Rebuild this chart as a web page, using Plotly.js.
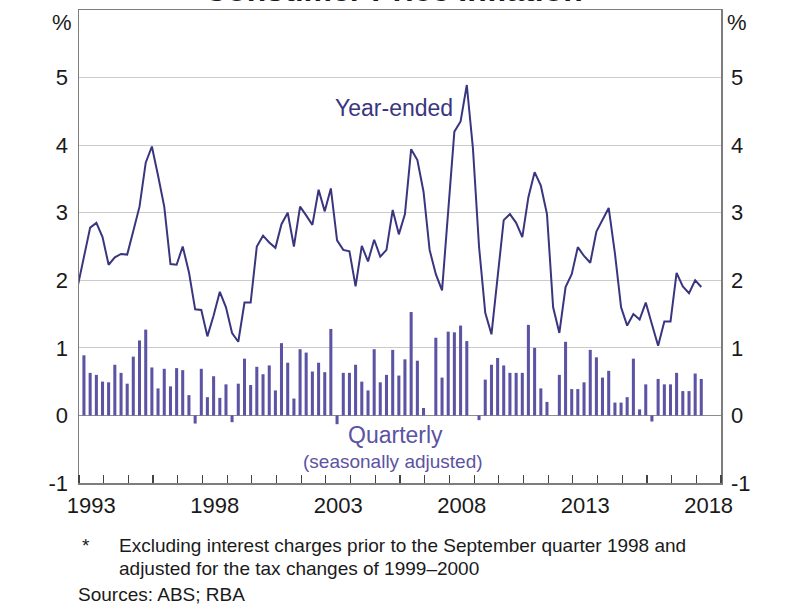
<!DOCTYPE html>
<html><head><meta charset="utf-8">
<script src="https://cdn.plot.ly/plotly-3.0.1.min.js"></script>
<style>html,body{margin:0;padding:0;background:#fff;} #chart{width:800px;height:609px;}</style>
</head><body><div id="chart"></div>
<script>
// Year-ended inflation, quarterly from 1992 Q4 to 2018 Q1 (%)
const yearEndedStart = [1992, 4];
const yearEnded = [1.92, 2.34, 2.78, 2.85, 2.64, 2.23, 2.34, 2.39, 2.38, 2.73,
  3.09, 3.74, 3.98, 3.55, 3.09, 2.24, 2.23, 2.50, 2.12, 1.57,
  1.56, 1.17, 1.48, 1.83, 1.60, 1.22, 1.09, 1.67, 1.67, 2.50,
  2.66, 2.56, 2.48, 2.83, 3.00, 2.50, 3.09, 2.96, 2.82, 3.34,
  3.02, 3.36, 2.59, 2.45, 2.43, 1.91, 2.51, 2.28, 2.60, 2.35,
  2.45, 3.04, 2.68, 2.98, 3.94, 3.78, 3.31, 2.45, 2.09, 1.85,
  3.05, 4.20, 4.35, 4.89, 3.95, 2.50, 1.52, 1.20, 2.05, 2.89,
  2.98, 2.85, 2.64, 3.23, 3.60, 3.40, 2.98, 1.60, 1.22, 1.90,
  2.09, 2.49, 2.36, 2.26, 2.72, 2.89, 3.07, 2.40, 1.60, 1.33,
  1.50, 1.42, 1.67, 1.35, 1.03, 1.39, 1.39, 2.11, 1.91, 1.81,
  2.00, 1.90];
// Quarterly inflation (seasonally adjusted), 1993 Q1 to 2018 Q1 (%)
const quarterlyStart = [1993, 1];
const quarterly = [0.89, 0.63, 0.60, 0.50, 0.49, 0.75, 0.63, 0.47, 0.87, 1.11,
  1.27, 0.71, 0.40, 0.69, 0.43, 0.70, 0.67, 0.30, -0.12, 0.69,
  0.27, 0.58, 0.26, 0.46, -0.10, 0.47, 0.84, 0.45, 0.72, 0.61,
  0.74, 0.37, 1.07, 0.78, 0.25, 0.98, 0.93, 0.65, 0.78, 0.64,
  1.28, -0.13, 0.63, 0.63, 0.75, 0.50, 0.37, 0.98, 0.49, 0.60,
  0.97, 0.59, 0.83, 1.53, 0.81, 0.11, 0.00, 1.15, 0.56, 1.24,
  1.23, 1.33, 1.10, 0.00, -0.07, 0.53, 0.75, 0.85, 0.74, 0.63,
  0.63, 0.63, 1.34, 1.00, 0.40, 0.20, 0.00, 0.60, 1.09, 0.39,
  0.39, 0.49, 0.97, 0.86, 0.56, 0.66, 0.19, 0.19, 0.27, 0.84,
  0.09, 0.46, -0.09, 0.54, 0.46, 0.46, 0.63, 0.36, 0.36, 0.62,
  0.54];
const labelYears = ['1993', '1998', '2003', '2008', '2013', '2018'];
const yTicks = [-1, 0, 1, 2, 3, 4, 5];

function quarterDates(start, n) {
  const out = [];
  let y = start[0], q = start[1];
  for (let i = 0; i < n; i++) {
    out.push(y + '-' + String(q * 3).padStart(2, '0') + '-15');
    q++; if (q > 4) { q = 1; y++; }
  }
  return out;
}

const lineColor = '#39367f';
const barColor = '#5b53a3';
const font = 'Liberation Sans, Arial, sans-serif';
const axisGray = '#7d7d7d';

const traces = [
  {type: 'bar', x: quarterDates(quarterlyStart, quarterly.length), y: quarterly,
   marker: {color: barColor, line: {width: 0}}, xaxis: 'x', yaxis: 'y', hoverinfo: 'skip'},
  {type: 'scatter', mode: 'lines', x: quarterDates(yearEndedStart, yearEnded.length), y: yearEnded,
   line: {color: lineColor, width: 2}, xaxis: 'x', yaxis: 'y2', hoverinfo: 'skip'}
];

function px2x(px) { return (px - 79) / 642; }
function px2y(py) { return (482.6 - py) / 473; }
function ann(text, px, py, size, color, anchor) {
  return {text: text, xref: 'paper', yref: 'paper', x: px2x(px), y: px2y(py),
    xanchor: anchor || 'center', yanchor: 'middle', showarrow: false,
    font: {family: font, size: size, color: color || '#1a1a1a'}};
}

const layout = {
  width: 800, height: 609,
  margin: {l: 79, r: 79, t: 10, b: 126.4, pad: 0},
  paper_bgcolor: '#fff', plot_bgcolor: '#fff',
  showlegend: false, bargap: 0.5,
  font: {family: font, size: 22, color: '#1a1a1a'},
  xaxis: {type: 'date', range: ['1993-01-01', '2019-01-01'],
    tickmode: 'array', tickvals: labelYears.map(y => y + '-07-02'), ticktext: labelYears,
    ticks: '', showgrid: false, zeroline: false,
    showline: true, linecolor: axisGray, linewidth: 1.5, mirror: true,
    tickfont: {family: font, size: 22, color: '#1a1a1a'}, ticklabelstandoff: 2,
    minor: {ticks: 'inside', ticklen: 8, tickwidth: 1.2, tickcolor: '#444',
      tick0: '1993-01-01', dtick: 'M12', showgrid: false}},
  yaxis: {range: [-1, 6], tickmode: 'array', tickvals: yTicks, ticktext: yTicks.map(String),
    ticks: '', showgrid: true, gridcolor: '#cbcbcb', gridwidth: 1,
    zeroline: true, zerolinecolor: '#8c8c8c', zerolinewidth: 1.5,
    showline: true, linecolor: axisGray, linewidth: 1.5,
    tickfont: {family: font, size: 22, color: '#1a1a1a'}, ticklabelstandoff: 5},
  yaxis2: {range: [-1, 6], overlaying: 'y', side: 'right', tickmode: 'array', tickvals: yTicks,
    ticktext: yTicks.map(String), ticks: '', showgrid: false, zeroline: false,
    showline: true, linecolor: axisGray, linewidth: 1.5,
    tickfont: {family: font, size: 22, color: '#1a1a1a'}, ticklabelstandoff: 4},
  annotations: [
    ann('<b>Consumer Price Inflation*</b>', 400, -10, 32, '#1a1a1a'),
    ann('%', 74, 22, 22, '#1a1a1a', 'right'),
    ann('%', 725, 22, 22, '#1a1a1a', 'left'),
    ann('Year-ended', 394, 107.7, 23, lineColor),
    ann('Quarterly', 395, 435, 23, barColor),
    ann('(seasonally adjusted)', 392.5, 461, 19, barColor),
    ann('*', 80, 545, 19, '#1a1a1a', 'left'),
    ann('Excluding interest charges prior to the September quarter 1998 and', 117, 545, 19, '#1a1a1a', 'left'),
    ann('adjusted for the tax changes of 1999–2000', 117, 568, 19, '#1a1a1a', 'left'),
    ann('Sources: ABS; RBA', 76, 594, 19, '#1a1a1a', 'left')
  ]
};

Plotly.newPlot('chart', traces, layout, {staticPlot: true, displayModeBar: false});
</script>
</body></html>
